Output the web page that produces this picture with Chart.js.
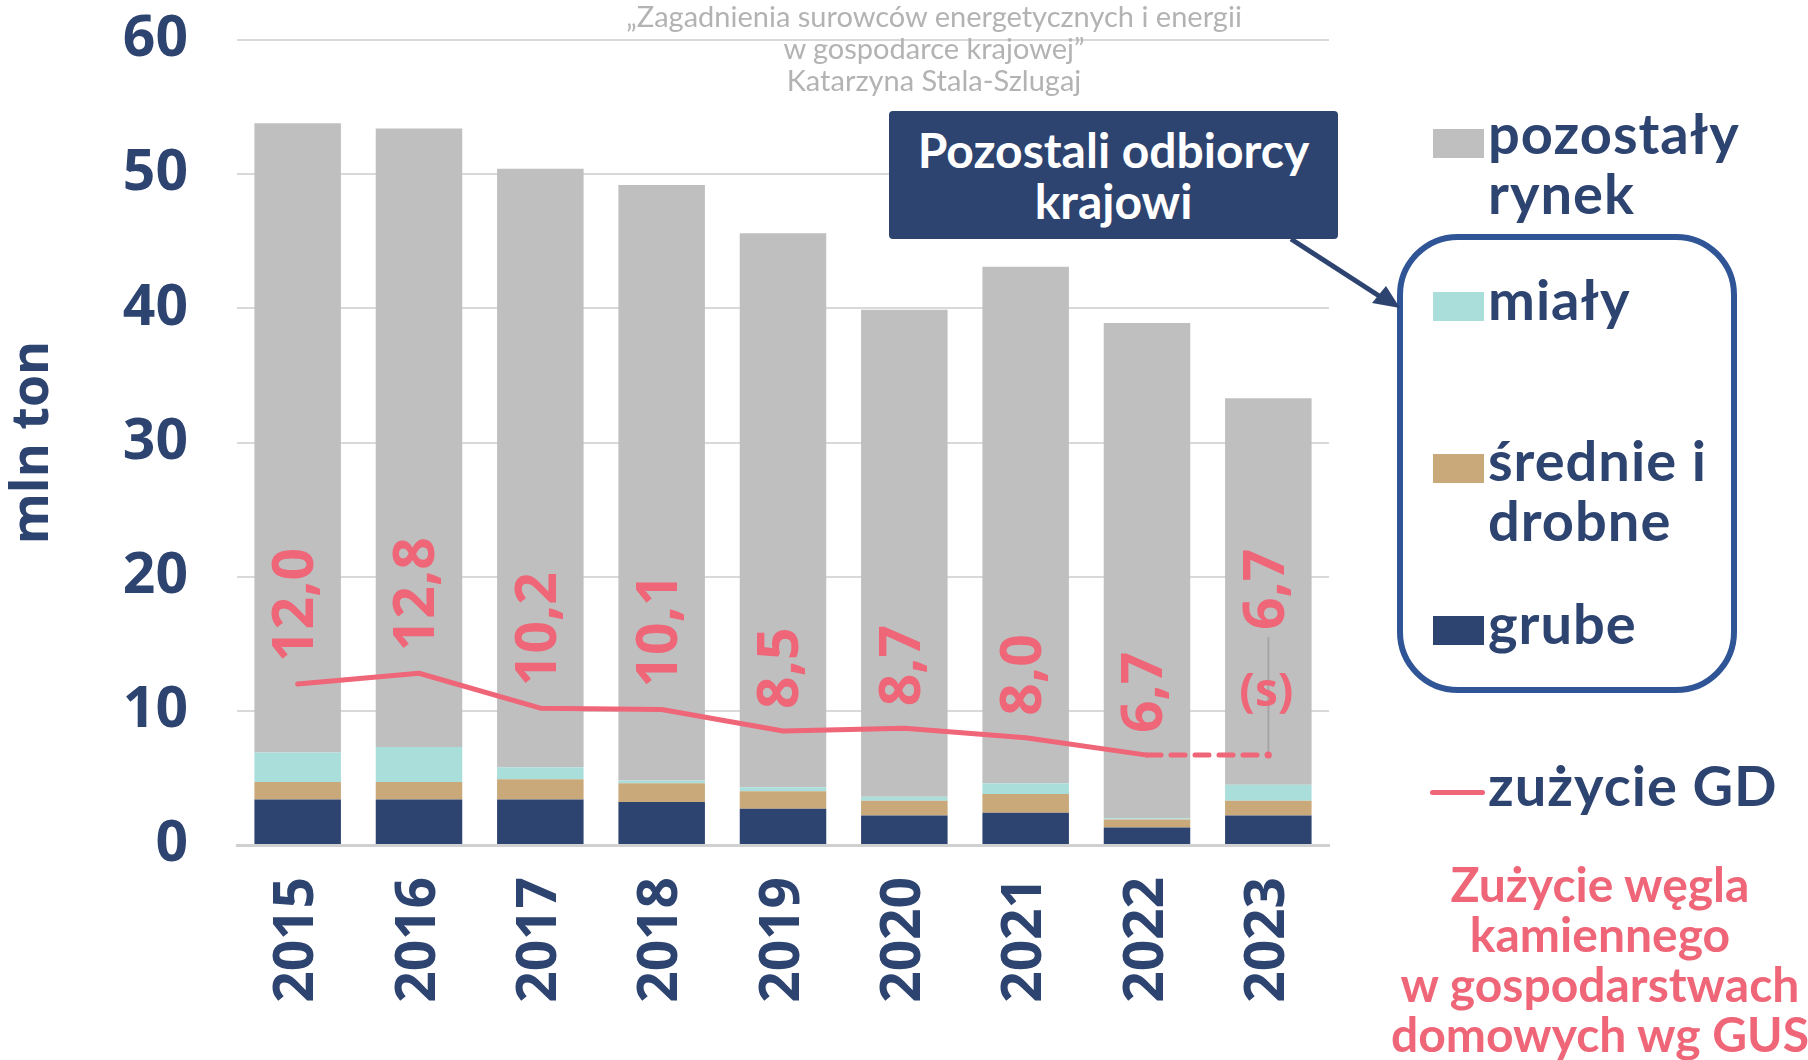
<!DOCTYPE html>
<html>
<head>
<meta charset="utf-8">
<script src="https://cdn.jsdelivr.net/npm/chart.js@4.4.1/dist/chart.umd.min.js"></script>
<style>
  html, body { margin: 0; padding: 0; background: #fff; overflow: hidden; }
  #wrap { position: relative; width: 1808px; height: 1060px; }
  #c { position: absolute; left: 0; top: 0; }
  .ov { position: absolute; white-space: nowrap; }
  .src { left: 584px; width: 700px; top: 0px; text-align: center; color: #b3b3b3; font: 400 29px/32px Lato, sans-serif; }
  .box { left: 889px; top: 111px; width: 449px; height: 128px; background: #2e4470; border-radius: 4px; color: #fff; text-align: center; font: 700 48px/51px Lato, sans-serif; display: flex; align-items: center; justify-content: center; }
  .leg { color: #2e4470; font: 700 56px/60px Lato, sans-serif; letter-spacing: 1px; left: 1488px; }
  .sw { position: absolute; left: 1433px; width: 51px; height: 29px; }
  .note { left: 1350px; width: 500px; top: 859px; text-align: center; color: #ee6677; font: 700 48px/50px Lato, sans-serif; }
</style>
</head>
<body>
<div id="wrap">
  <canvas id="c" width="1808" height="1060"></canvas>
  <svg class="ov" style="left:0;top:0" width="1808" height="1060">
    <rect x="1400" y="237" width="334" height="453" rx="58" ry="58" fill="none" stroke="#2f5597" stroke-width="6"/>
    <line x1="1291" y1="239" x2="1390" y2="303" stroke="#2e4470" stroke-width="5"/>
    <polygon points="1400,308 1372,303 1386,286" fill="#2e4470"/>
  </svg>
  <div class="ov src">„Zagadnienia surowców energetycznych i energii<br>w gospodarce krajowej”<br>Katarzyna Stala-Szlugaj</div>
  <div class="ov box"><div>Pozostali odbiorcy<br>krajowi</div></div>
  <div id="legend"></div>
  <div class="ov note">Zużycie węgla<br>kamiennego<br>w gospodarstwach<br>domowych wg GUS</div>
</div>
<script>
// ---- data ----
const years = ['2015','2016','2017','2018','2019','2020','2021','2022','2023'];
const grube = [3.4, 3.4, 3.4, 3.2, 2.7, 2.2, 2.4, 1.3, 2.2];
const srednie = [1.3, 1.3, 1.5, 1.4, 1.3, 1.1, 1.4, 0.6, 1.1];
const mialy = [2.2, 2.6, 0.9, 0.2, 0.3, 0.3, 0.8, 0.1, 1.2];
const pozostaly = [46.9, 46.1, 44.6, 44.4, 41.3, 36.3, 38.5, 36.9, 28.8];
const zuzycieGD = [12.0, 12.8, 10.2, 10.1, 8.5, 8.7, 8.0, 6.7, 6.7];
const seriesNames = ['grube', 'średnie i drobne', 'miały', 'pozostały rynek', 'zużycie GD'];
const yTicks = [0, 10, 20, 30, 40, 50, 60];

const NAVY = '#2e4470', TAN = '#c9a87a', TEAL = '#aadedb', GRAY = '#bfbfbf', PINK = '#ee6677';

// ---- legend (HTML) ----
const legendDefs = [
  { color: GRAY, swTop: 129, txtTop: 103, lines: ['pozostały', 'rynek'] },
  { color: TEAL, swTop: 292, txtTop: 269, lines: ['miały'] },
  { color: TAN, swTop: 454, txtTop: 430, lines: ['średnie i', 'drobne'] },
  { color: NAVY, swTop: 616, txtTop: 593, lines: ['grube'] },
];
const legEl = document.getElementById('legend');
legendDefs.forEach(d => {
  const sw = document.createElement('div');
  sw.className = 'sw'; sw.style.top = d.swTop + 'px'; sw.style.background = d.color;
  legEl.appendChild(sw);
  const t = document.createElement('div');
  t.className = 'ov leg'; t.style.top = d.txtTop + 'px';
  t.innerHTML = d.lines.join('<br>');
  legEl.appendChild(t);
});
{
  const ln = document.createElement('div');
  ln.style.cssText = 'position:absolute;left:1430px;top:790px;width:55px;height:5px;border-radius:3px;background:' + PINK;
  legEl.appendChild(ln);
  const t = document.createElement('div');
  t.className = 'ov leg'; t.style.top = '755px'; t.textContent = seriesNames[4];
  legEl.appendChild(t);
}

// ---- value labels plugin ----
const fmt = v => v.toFixed(1).replace('.', ',');
const labelPlugin = {
  id: 'valLabels',
  afterDatasetsDraw(chart) {
    const ctx = chart.ctx;
    const meta = chart.getDatasetMeta(4);
    const ys = chart.scales.y;
    ctx.save();
    meta.data.forEach((pt, i) => {
      const last = i === meta.data.length - 1;
      const x = pt.x - 3;
      const y = last ? ys.getPixelForValue(zuzycieGD[i]) - 125 : pt.y - 22;
      if (last) {
        ctx.strokeStyle = '#a6a6a6'; ctx.lineWidth = 2;
        ctx.beginPath(); ctx.moveTo(pt.x, pt.y); ctx.lineTo(pt.x, pt.y - 118); ctx.stroke();
        ctx.fillStyle = PINK;
        ctx.beginPath(); ctx.arc(pt.x, pt.y, 3.5, 0, Math.PI * 2); ctx.fill();
        ctx.font = '700 46px "Open Sans", sans-serif';
        ctx.textAlign = 'center'; ctx.textBaseline = 'middle';
        ctx.fillText('(s)', pt.x - 2, pt.y - 62);
      }
      ctx.save();
      ctx.translate(x, y);
      ctx.rotate(-Math.PI / 2);
      ctx.fillStyle = PINK;
      ctx.font = '700 57px "Open Sans", sans-serif';
      ctx.textAlign = 'left'; ctx.textBaseline = 'middle';
      ctx.fillText(fmt(zuzycieGD[i]), 0, 2);
      ctx.restore();
    });
    ctx.restore();
  }
};

const barCommon = { type: 'bar', stack: 's', borderWidth: 0, categoryPercentage: 1.0, barPercentage: 0.713, order: 2 };

new Chart(document.getElementById('c'), {
  data: {
    labels: years,
    datasets: [
      Object.assign({ label: seriesNames[0], data: grube, backgroundColor: NAVY }, barCommon),
      Object.assign({ label: seriesNames[1], data: srednie, backgroundColor: TAN }, barCommon),
      Object.assign({ label: seriesNames[2], data: mialy, backgroundColor: TEAL }, barCommon),
      Object.assign({ label: seriesNames[3], data: pozostaly, backgroundColor: GRAY }, barCommon),
      {
        type: 'line', label: seriesNames[4], data: zuzycieGD, borderColor: PINK, backgroundColor: PINK,
        borderWidth: 5, pointRadius: 0, tension: 0, order: 1, borderCapStyle: 'round', borderJoinStyle: 'round',
        segment: { borderDash: ctx => ctx.p1DataIndex === zuzycieGD.length - 1 ? [14, 10] : undefined }
      }
    ]
  },
  options: {
    responsive: false,
    animation: false,
    layout: { padding: { top: 40, right: 479, bottom: 0, left: 0 } },
    plugins: { legend: { display: false }, tooltip: { enabled: false } },
    scales: {
      x: {
        stacked: true,
        grid: { display: false, drawTicks: false },
        border: { display: true, color: '#d0d0d0', width: 3 },
        ticks: { color: NAVY, font: { family: '"Open Sans", sans-serif', size: 55, weight: '700' }, minRotation: 90, maxRotation: 90, padding: 32, autoSkip: false },
        afterFit: s => { s.height = 215; }
      },
      y: {
        stacked: true, min: 0, max: 60,
        afterBuildTicks: s => { s.ticks = yTicks.map(v => ({ value: v })); },
        grid: { color: '#d9d9d9', lineWidth: 2, drawTicks: false },
        border: { display: false },
        ticks: { color: NAVY, font: { family: '"Open Sans", sans-serif', size: 57, weight: '700' }, padding: 49 },
        title: { display: true, text: 'mln ton', color: NAVY, font: { family: '"Open Sans", sans-serif', size: 52, weight: '700' }, padding: { top: 2, bottom: 0 } },
        afterFit: s => { s.width = 237; s.paddingTop = 0; s.paddingBottom = 0; }
      }
    }
  },
  plugins: [labelPlugin]
});
</script>
</body>
</html>
